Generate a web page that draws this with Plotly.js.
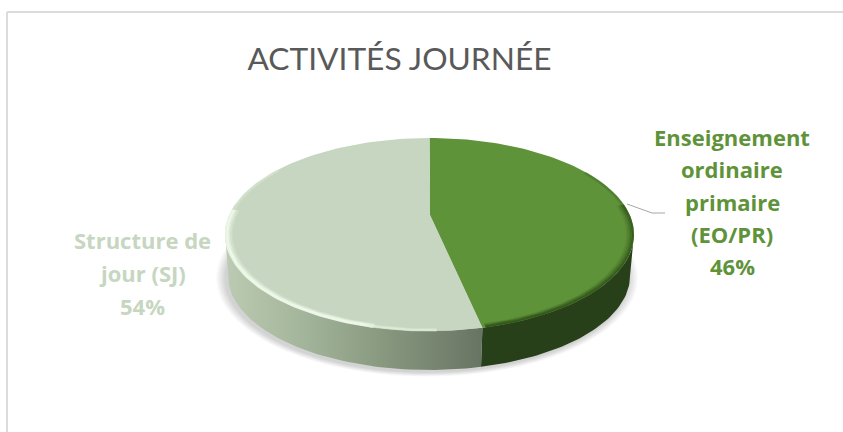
<!DOCTYPE html>
<html><head><meta charset="utf-8">
<script src="https://cdn.plot.ly/plotly-3.0.1.min.js"></script>
<style>html,body{margin:0;padding:0;background:#fff}#c{width:843px;height:432px}</style></head>
<body><div id="c"></div>
<script>
const categories = ["Enseignement ordinaire primaire (EO/PR)", "Structure de jour (SJ)"];
const values = [46, 54];
const labelLinesEO = ["Enseignement", "ordinaire", "primaire", "(EO/PR)", "46%"];
const labelLinesSJ = ["Structure de", "jour (SJ)", "54%"];
const titleText = "ACTIVITÉS JOURNÉE";

const W = 843, H = 432;
const topE = {cx: 429.5, cy: 234.5, rx: 204.5, ry: 96.5};
const botE = {cx: 429, cy: 276, rx: 201, ry: 94};
const apex = [430, 215];
const R = Math.PI / 180;
const split = values[0] / (values[0] + values[1]) * 2 * Math.PI - 0.6 * R;

function arc(e, t0, t1, dr) {
  dr = dr || 0;
  const xs = [], ys = [], n = Math.max(8, Math.ceil(Math.abs(t1 - t0) / (1.5 * R)));
  for (let i = 0; i <= n; i++) {
    const t = t0 + (t1 - t0) * i / n;
    xs.push(e.cx + (e.rx - dr) * Math.sin(t));
    ys.push(e.cy - (e.ry - dr * e.ry / e.rx) * Math.cos(t));
  }
  return [xs, ys];
}
function poly(xs, ys, fill, extra) {
  return Object.assign({type: "scatter", mode: "lines", x: xs, y: ys, fill: "toself",
    fillcolor: fill, line: {width: 0}, hoverinfo: "skip", showlegend: false}, extra || {});
}
function stroke(a, color, width, opacity) {
  return {type: "scatter", mode: "lines", x: a[0], y: a[1], opacity: opacity,
    line: {color: color, width: width, shape: "linear"}, hoverinfo: "skip", showlegend: false};
}
function wall(t0, t1, extra, fill) {
  const a = arc(topE, t0, t1), b = arc(botE, t1, t0);
  return poly(a[0].concat(b[0], [a[0][0]]), a[1].concat(b[1], [a[1][0]]), fill, extra);
}

const traces = [];
// soft shadow under the disc
for (let i = 9; i >= 1; i--) {
  const s = arc({cx: botE.cx - 2, cy: botE.cy + 2, rx: botE.rx, ry: botE.ry}, 0, 2 * Math.PI, -i * 1.1);
  traces.push(poly(s[0], s[1], "rgba(90,90,90,0.028)"));
}
// side walls
traces.push(wall(90 * R, split, {}, "#28401a"));
traces.push(wall(split, 272 * R, {
  fillgradient: {type: "horizontal", colorscale: [[0, "#bccbb3"], [0.3, "#a3b59a"], [0.62, "#87987f"], [1, "#687463"]]}
}, "#8a9a82"));
// top slices
const g = arc(topE, 0, split), l = arc(topE, split, 2 * Math.PI);
traces.push(poly([apex[0]].concat(g[0], [apex[0]]), [apex[1]].concat(g[1], [apex[1]]), "#5f933a"));
traces.push(poly([apex[0]].concat(l[0], [apex[0]]), [apex[1]].concat(l[1], [apex[1]]), "#c6d6c0"));
// bevel of the green slice
[[1, 0.75], [2.5, 0.55], [4, 0.36], [5.5, 0.2], [7, 0.1]].forEach(p =>
  traces.push(stroke(arc(topE, 72 * R, split - 1 * R, p[0]), "#2f5218", 2, p[1])));
[[1, 0.4], [2.5, 0.22]].forEach(p =>
  traces.push(stroke(arc(topE, 50 * R, 72 * R, p[0]), "#3f6a25", 2, p[1])));
// bevel of the light slice
[[0.8, 0.85], [2.4, 1], [4, 0.6], [5.6, 0.3], [7, 0.14]].forEach(p =>
  traces.push(stroke(arc(topE, 196 * R, 285 * R, p[0]), "#eef8e9", 2, p[1])));
[[1, 0.55], [2.6, 0.6], [4.2, 0.25]].forEach(p =>
  traces.push(stroke(arc(topE, 178 * R, 198 * R, p[0]), "#e2eedc", 2, p[1])));
[[1, 0.4], [2.5, 0.25]].forEach(p =>
  traces.push(stroke(arc(topE, 285 * R, 312 * R, p[0]), "#dfecd9", 2, p[1])));
// leader line
traces.push({type: "scatter", mode: "lines", x: [627, 652, 665], y: [204, 213, 213],
  line: {color: "#a6a6a6", width: 1}, hoverinfo: "skip", showlegend: false});

const TITLE_FONT = "Lato, Carlito, Calibri, sans-serif";
const LABEL_FONT = "'Open Sans', Lato, sans-serif";
const ann = [];
labelLinesEO.forEach((s, i) => ann.push({x: 732, y: 137 + i * 32.3, xref: "x", yref: "y", text: "<b>" + s + "</b>",
  showarrow: false, xanchor: "center", yanchor: "middle", font: {family: LABEL_FONT, size: 22, color: "#5f933a"}}));
labelLinesSJ.forEach((s, i) => ann.push({x: 142.5, y: 240 + i * 33, xref: "x", yref: "y", text: "<b>" + s + "</b>",
  showarrow: false, xanchor: "center", yanchor: "middle", font: {family: LABEL_FONT, size: 22, color: "#c6d6c0"}}));

Plotly.newPlot("c", traces, {
  width: W, height: H, margin: {l: 0, r: 0, t: 0, b: 0},
  paper_bgcolor: "#fff", plot_bgcolor: "#fff", showlegend: false, hovermode: false,
  title: {text: titleText, x: 399.5 / W, xanchor: "center", xref: "paper", y: 1 - 59 / H, yanchor: "middle", yref: "paper",
    font: {family: TITLE_FONT, size: 31.7, color: "#595959"}},
  xaxis: {range: [0, W], visible: false, fixedrange: true},
  yaxis: {range: [H, 0], visible: false, fixedrange: true},
  annotations: ann,
  shapes: [
    {type: "line", xref: "x", yref: "y", x0: 7, x1: 843, y0: 12, y1: 12, line: {color: "#dcdcdc", width: 2}},
    {type: "line", xref: "x", yref: "y", x0: 7, x1: 7, y0: 12, y1: 432, line: {color: "#dcdcdc", width: 2}}
  ]
}, {displayModeBar: false, staticPlot: true});
</script></body></html>
